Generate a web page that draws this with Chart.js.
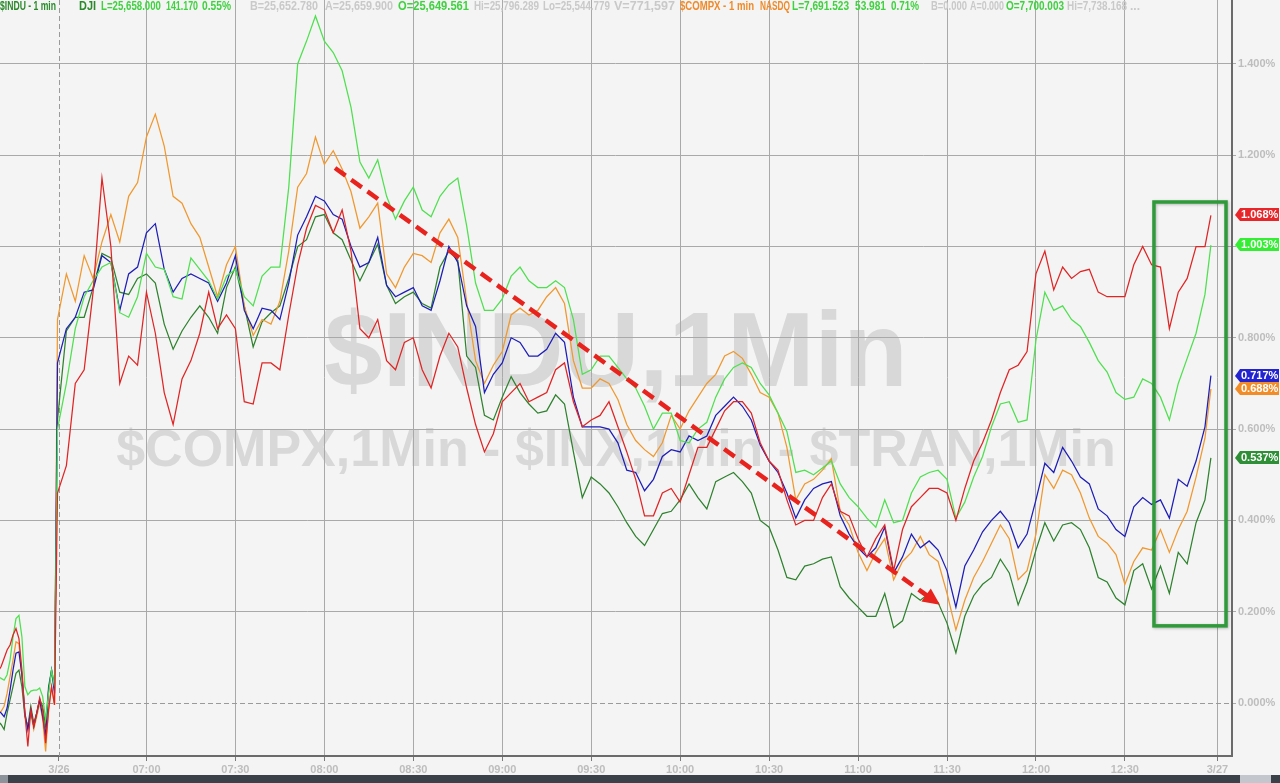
<!DOCTYPE html>
<html>
<head>
<meta charset="utf-8">
<script src="https://cdn.jsdelivr.net/npm/chart.js@4.4.1/dist/chart.umd.min.js"></script>
<style>
  html, body { margin: 0; padding: 0; background: #f4f4f4; }
  #marco { width: 1280px; height: 783px; }
</style>
</head>
<body>
<div id="marco"><canvas id="grafica" width="1280" height="783"></canvas></div>
<script>
// Minutos desde la apertura (06:30). Los negativos son el final de la sesión anterior
const minutos = [
  -20,-19,-18,-17,-16,-15,-14,-13,-12,-11,-10,-9,-8,-7,-6,-5,-4,-3,-2,-1,
  0,3,6,9,12,15,18,21,24,27,
  30,33,36,39,42,45,48,51,54,57,
  60,63,66,69,72,75,78,81,84,87,
  90,93,96,99,102,105,108,111,114,117,
  120,123,126,129,132,135,138,141,144,147,
  150,153,156,159,162,165,168,171,174,177,
  180,183,186,189,192,195,198,201,204,207,
  210,213,216,219,222,225,228,231,234,237,
  240,243,246,249,252,255,258,261,264,267,
  270,273,276,279,282,285,288,291,294,297,
  300,303,306,309,312,315,318,321,324,327,
  330,333,336,339,342,345,348,351,354,357,
  360,363,366,369,372,375,378,381,384,387,
  389
];

// Variación en % de cada serie
const serieRoja = [
  0.07,0.08,0.098,0.116,0.127,0.149,0.163,0.141,0.072,-0.022,-0.095,-0.015,-0.051,-0.022,0.011,-0.015,-0.088,-0.015,0.036,-0.004,
  0.46,0.52,0.70,0.73,0.90,1.15,1.00,0.70,0.76,0.74,
  0.90,0.81,0.68,0.61,0.71,0.75,0.81,0.90,0.82,0.85,
  0.82,0.66,0.655,0.745,0.745,0.73,0.85,0.96,1.04,1.09,
  1.08,1.03,1.08,0.99,0.82,0.80,0.84,0.75,0.73,0.79,
  0.80,0.73,0.69,0.76,0.81,0.78,0.69,0.61,0.55,0.59,
  0.66,0.68,0.70,0.66,0.67,0.68,0.73,0.745,0.66,0.605,
  0.62,0.63,0.66,0.605,0.55,0.49,0.41,0.41,0.46,0.47,
  0.44,0.50,0.56,0.56,0.60,0.64,0.66,0.66,0.635,0.57,
  0.53,0.51,0.445,0.39,0.40,0.40,0.45,0.48,0.42,0.41,
  0.36,0.32,0.36,0.39,0.29,0.38,0.43,0.45,0.47,0.47,
  0.46,0.40,0.47,0.53,0.57,0.62,0.68,0.73,0.74,0.77,
  0.94,0.99,0.905,0.955,0.93,0.945,0.95,0.90,0.89,0.89,
  0.89,0.96,1.00,0.96,0.955,0.82,0.90,0.93,1.00,1.00,
  1.068
];
const serieVerde = [
  0.058,0.054,0.050,0.062,0.094,0.145,0.185,0.192,0.145,0.036,0.018,0.026,0.028,0.028,0.033,0.014,-0.036,0.021,0.072,0.036,
  0.60,0.70,0.82,0.89,0.925,0.955,0.965,0.855,0.845,0.89,
  0.985,0.955,0.95,0.89,0.885,0.975,0.95,0.925,0.885,0.935,
  0.95,0.89,0.87,0.935,0.955,0.955,1.13,1.40,1.45,1.505,
  1.45,1.425,1.385,1.305,1.185,1.15,1.19,1.11,1.06,1.10,
  1.13,1.08,1.065,1.11,1.135,1.15,1.045,0.92,0.86,0.86,
  0.885,0.935,0.955,0.925,0.91,0.91,0.925,0.91,0.84,0.72,
  0.73,0.76,0.76,0.735,0.71,0.69,0.65,0.60,0.635,0.635,
  0.575,0.57,0.60,0.615,0.67,0.71,0.735,0.745,0.735,0.70,
  0.675,0.635,0.595,0.505,0.51,0.50,0.515,0.53,0.48,0.45,
  0.43,0.405,0.385,0.445,0.395,0.40,0.46,0.495,0.505,0.51,
  0.49,0.405,0.44,0.495,0.54,0.605,0.655,0.66,0.615,0.62,
  0.795,0.90,0.86,0.87,0.84,0.825,0.79,0.75,0.725,0.68,
  0.665,0.67,0.71,0.70,0.67,0.62,0.70,0.755,0.81,0.895,
  1.003
];
const serieAzul = [
  -0.018,-0.022,-0.030,-0.011,0.028,0.072,0.109,0.112,0.062,-0.022,-0.058,-0.015,-0.051,-0.022,0.007,-0.030,-0.073,0.028,0.072,0.021,
  0.745,0.82,0.845,0.90,0.905,0.98,0.965,0.86,0.94,0.955,
  1.03,1.05,0.95,0.90,0.93,0.94,0.93,0.92,0.88,0.92,
  0.98,0.86,0.82,0.865,0.86,0.84,0.92,1.025,1.065,1.11,
  1.10,1.07,1.06,1.00,0.955,0.965,1.02,0.915,0.89,0.90,
  0.91,0.87,0.86,0.925,1.00,0.965,0.87,0.825,0.68,0.72,
  0.745,0.80,0.79,0.76,0.76,0.775,0.81,0.79,0.67,0.605,
  0.605,0.605,0.60,0.57,0.51,0.505,0.465,0.49,0.54,0.555,
  0.55,0.585,0.575,0.585,0.63,0.65,0.67,0.65,0.62,0.565,
  0.53,0.505,0.46,0.405,0.445,0.47,0.48,0.485,0.41,0.37,
  0.34,0.32,0.34,0.385,0.285,0.32,0.37,0.34,0.355,0.335,
  0.29,0.21,0.30,0.335,0.375,0.40,0.42,0.395,0.34,0.37,
  0.445,0.525,0.505,0.56,0.53,0.495,0.48,0.425,0.41,0.38,
  0.365,0.43,0.45,0.435,0.445,0.405,0.49,0.475,0.53,0.605,
  0.717
];
const serieNaranja = [
  -0.022,-0.018,-0.007,0.021,0.058,0.094,0.134,0.130,0.058,-0.022,-0.058,-0.022,-0.058,-0.030,0,-0.036,-0.106,-0.015,0.036,-0.004,
  0.84,0.94,0.88,0.98,0.93,1.01,1.07,1.01,1.11,1.14,
  1.24,1.29,1.22,1.11,1.095,1.05,1.02,0.955,0.89,0.96,
  1.00,0.87,0.805,0.84,0.83,0.88,0.99,1.13,1.16,1.24,
  1.18,1.21,1.17,1.12,1.04,1.065,1.095,0.94,0.91,0.955,
  0.985,0.98,0.965,1.03,1.06,1.02,0.88,0.75,0.70,0.74,
  0.77,0.85,0.865,0.85,0.86,0.89,0.91,0.875,0.75,0.69,
  0.69,0.71,0.70,0.665,0.61,0.575,0.555,0.54,0.57,0.63,
  0.60,0.64,0.67,0.70,0.72,0.76,0.77,0.755,0.72,0.68,
  0.67,0.635,0.56,0.445,0.48,0.49,0.51,0.535,0.42,0.39,
  0.33,0.29,0.33,0.36,0.27,0.31,0.33,0.365,0.325,0.31,
  0.24,0.16,0.225,0.275,0.31,0.35,0.39,0.36,0.27,0.29,
  0.37,0.50,0.47,0.51,0.50,0.46,0.405,0.365,0.35,0.325,
  0.26,0.31,0.34,0.335,0.38,0.33,0.38,0.42,0.495,0.58,
  0.688
];
const serieVerdeOscuro = [
  -0.040,-0.047,-0.058,-0.022,0.007,0.036,0.065,0.072,0.036,-0.030,-0.051,-0.007,-0.044,-0.022,0.007,-0.007,-0.051,0.036,0.072,0.040,
  0.62,0.815,0.845,0.845,0.91,0.985,0.975,0.90,0.895,0.93,
  0.94,0.92,0.83,0.775,0.815,0.845,0.87,0.845,0.81,0.91,
  0.955,0.87,0.78,0.835,0.855,0.87,0.93,1.00,1.015,1.065,
  1.07,1.03,1.015,0.97,0.925,0.965,1.005,0.915,0.875,0.89,
  0.90,0.875,0.865,0.955,0.99,0.97,0.76,0.735,0.63,0.62,
  0.67,0.715,0.68,0.655,0.635,0.64,0.675,0.655,0.55,0.45,
  0.495,0.48,0.46,0.43,0.395,0.365,0.345,0.38,0.415,0.42,
  0.445,0.48,0.45,0.425,0.485,0.495,0.505,0.485,0.46,0.40,
  0.385,0.335,0.275,0.27,0.30,0.305,0.315,0.32,0.255,0.23,
  0.21,0.19,0.19,0.24,0.165,0.18,0.24,0.225,0.24,0.22,
  0.175,0.11,0.19,0.235,0.26,0.275,0.315,0.285,0.215,0.265,
  0.335,0.395,0.355,0.39,0.395,0.38,0.34,0.275,0.265,0.23,
  0.215,0.29,0.305,0.25,0.30,0.24,0.33,0.305,0.395,0.445,
  0.537
];

// Ejes
const marcasX = [0.5, 30, 60, 90, 120, 150, 180, 210, 240, 270, 300, 330, 360, 391.2];
const etiquetasX = ['3/26','07:00','07:30','08:00','08:30','09:00','09:30','10:00','10:30','11:00','11:30','12:00','12:30','3/27'];
const marcasY = [0, 0.2, 0.4, 0.6, 0.8, 1.0, 1.2, 1.4];

// Texto de la cabecera: [texto, color, x, ancho]
const cabecera = [
  ['$INDU - 1 min', '#2a8a2a', 0, 56],
  ['DJI', '#2a8a2a', 79, 17],
  ['L=25,658.000', '#3fd23f', 101, 60],
  ['141.170', '#3fd23f', 166, 32],
  ['0.55%', '#3fd23f', 202, 29],
  ['B=25,652.780', '#c9c9c9', 250, 68],
  ['A=25,659.900', '#c9c9c9', 325, 68],
  ['O=25,649.561', '#3fd23f', 398, 71],
  ['Hi=25,796.289', '#c9c9c9', 474, 65],
  ['Lo=25,544.779', '#c9c9c9', 543, 67],
  ['V=771,597', '#c9c9c9', 614, 61],
  ['$COMPX - 1 min', '#f08a28', 680, 74],
  ['NASDQ', '#f08a28', 760, 30],
  ['L=7,691.523', '#3fd23f', 792, 57],
  ['53.981', '#3fd23f', 855, 31],
  ['0.71%', '#3fd23f', 891, 28],
  ['B=0.000', '#c9c9c9', 931, 36],
  ['A=0.000', '#c9c9c9', 970, 34],
  ['O=7,700.003', '#3fd23f', 1006, 58],
  ['Hi=7,738.168', '#c9c9c9', 1067, 60],
  ['...', '#c9c9c9', 1130, 10]
];

// Anotaciones (en unidades de datos)
const flecha = { desde: [93.6, 1.172], hasta: [297.6, 0.215] };
const recuadro = { x1: 369.8, x2: 394.1, y1: 1.0975, y2: 0.169 };

const series = [
  { nombre: 'Roja', datos: serieRoja, color: '#e02424', etiqueta: '#e8262a' },
  { nombre: 'Verde', datos: serieVerde, color: '#4ee04e', etiqueta: '#33ee33' },
  { nombre: 'Azul', datos: serieAzul, color: '#1d1db8', etiqueta: '#2323d0' },
  { nombre: 'Naranja', datos: serieNaranja, color: '#f0982e', etiqueta: '#f28c26' },
  { nombre: 'VerdeOscuro', datos: serieVerdeOscuro, color: '#2e822e', etiqueta: '#2e8f36' }
];

const FUENTE = '"Liberation Sans", Arial, sans-serif';

const decorado = {
  id: 'decorado',
  beforeDraw(chart) {
    const c = chart.ctx;
    const a = chart.chartArea;
    c.save();
    c.fillStyle = '#f4f4f4';
    c.fillRect(0, 0, chart.width, chart.height);
    // marca de agua
    const cx = (a.left + a.right) / 2;
    c.fillStyle = '#d8d8d8';
    c.textAlign = 'center';
    c.textBaseline = 'alphabetic';
    c.font = 'bold 105px ' + FUENTE;
    c.fillText('$INDU,1Min', cx, 386);
    c.font = 'bold 52px ' + FUENTE;
    c.fillText('$COMPX,1Min - $INX,1Min - $TRAN,1Min', cx, 466);
    c.restore();
  },
  beforeDatasetsDraw(chart) {
    const c = chart.ctx;
    const a = chart.chartArea;
    const sx = chart.scales.x, sy = chart.scales.y;
    c.save();
    c.strokeStyle = '#9a9a9a';
    c.lineWidth = 1;
    c.setLineDash([5, 3]);
    const y0 = Math.round(sy.getPixelForValue(0)) + 0.5;
    c.beginPath();
    c.moveTo(a.left, y0);
    c.lineTo(a.right, y0);
    c.stroke();
    const x0 = Math.round(sx.getPixelForValue(marcasX[0])) + 0.5;
    c.beginPath();
    c.moveTo(x0, a.top);
    c.lineTo(x0, a.bottom);
    c.stroke();
    c.restore();
  },
  afterDatasetsDraw(chart) {
    const c = chart.ctx;
    const sx = chart.scales.x, sy = chart.scales.y;
    c.save();
    // flecha roja discontinua
    const xa = sx.getPixelForValue(flecha.desde[0]), ya = sy.getPixelForValue(flecha.desde[1]);
    const xb = sx.getPixelForValue(flecha.hasta[0]), yb = sy.getPixelForValue(flecha.hasta[1]);
    const ang = Math.atan2(yb - ya, xb - xa);
    const dx = Math.cos(ang), dy = Math.sin(ang);
    c.strokeStyle = '#e8231e';
    c.lineWidth = 4.5;
    c.setLineDash([13, 7]);
    c.beginPath();
    c.moveTo(xa, ya);
    c.lineTo(xb - dx * 14, yb - dy * 14);
    c.stroke();
    c.setLineDash([]);
    c.fillStyle = '#e8231e';
    c.beginPath();
    c.moveTo(xb, yb);
    c.lineTo(xb - dx * 17 - dy * 8, yb - dy * 17 + dx * 8);
    c.lineTo(xb - dx * 17 + dy * 8, yb - dy * 17 - dx * 8);
    c.closePath();
    c.fill();
    // recuadro verde
    const rx1 = sx.getPixelForValue(recuadro.x1), rx2 = sx.getPixelForValue(recuadro.x2);
    const ry1 = sy.getPixelForValue(recuadro.y1), ry2 = sy.getPixelForValue(recuadro.y2);
    c.shadowColor = 'rgba(0,0,0,0.25)';
    c.shadowBlur = 3;
    c.shadowOffsetX = 1;
    c.shadowOffsetY = 1;
    c.strokeStyle = '#2f9a3a';
    c.lineWidth = 3.5;
    c.strokeRect(rx1, ry1, rx2 - rx1, ry2 - ry1);
    c.restore();
  },
  afterDraw(chart) {
    const c = chart.ctx;
    const sy = chart.scales.y;
    const a = chart.chartArea;
    c.save();
    // etiquetas de último valor
    c.font = 'bold 11px ' + FUENTE;
    c.textBaseline = 'middle';
    c.textAlign = 'left';
    series.forEach(s => {
      const v = s.datos[s.datos.length - 1];
      const yv = Math.round(sy.getPixelForValue(v));
      const x1 = a.right + 3;
      c.fillStyle = s.etiqueta;
      c.beginPath();
      c.moveTo(x1, yv);
      c.lineTo(x1 + 5, yv - 7);
      c.lineTo(1279, yv - 7);
      c.lineTo(1279, yv + 6);
      c.lineTo(x1 + 5, yv + 6);
      c.closePath();
      c.fill();
      c.fillStyle = '#ffffff';
      c.fillText(v.toFixed(3) + '%', x1 + 6, yv);
    });
    // cabecera
    c.font = 'bold 13px "Liberation Sans Narrow", ' + FUENTE;
    c.textBaseline = 'alphabetic';
    cabecera.forEach(([t, col, x, w]) => {
      c.fillStyle = col;
      c.fillText(t, x, 10, w);
    });
    // barra inferior
    c.fillStyle = '#3b4149';
    c.fillRect(0, 775, chart.width, 8);
    c.fillStyle = '#8d939b';
    c.fillRect(0, 775, 8, 8);
    c.fillStyle = '#c3c7cd';
    c.fillRect(1240, 775, 31, 8);
    c.restore();
  }
};

const grafica = new Chart(document.getElementById('grafica').getContext('2d'), {
  type: 'line',
  data: {
    datasets: series.map(s => ({
      label: s.nombre,
      data: minutos.map((m, i) => ({ x: m, y: s.datos[i] })),
      borderColor: s.color,
      borderWidth: 1.25,
      pointRadius: 0,
      fill: false,
      tension: 0
    }))
  },
  options: {
    responsive: false,
    animation: false,
    devicePixelRatio: 1,
    layout: { padding: 0 },
    plugins: {
      legend: { display: false },
      tooltip: { enabled: false }
    },
    events: [],
    scales: {
      x: {
        type: 'linear',
        min: -19.39,
        max: 396.12,
        afterBuildTicks: s => { s.ticks = marcasX.map(v => ({ value: v })); },
        afterFit: s => { s.height = 27; s.paddingLeft = 0; s.paddingRight = 0; },
        ticks: {
          autoSkip: false,
          maxRotation: 0,
          padding: 2,
          color: '#bdbdbd',
          font: { family: FUENTE, size: 11, weight: 'bold' },
          callback: (v, i) => etiquetasX[i]
        },
        grid: {
          color: ctx => (ctx.index === 0 ? 'rgba(0,0,0,0)' : '#a9a9a9'),
          lineWidth: 1,
          tickLength: 5,
          tickColor: '#7a7a7a'
        },
        border: { color: '#6a6a6a', width: 2 }
      },
      y: {
        position: 'right',
        min: -0.1161,
        max: 1.54,
        afterBuildTicks: s => { s.ticks = marcasY.map(v => ({ value: v })); },
        afterFit: s => { s.width = 48; s.paddingTop = 0; s.paddingBottom = 0; },
        ticks: {
          padding: 2,
          color: '#bdbdbd',
          font: { family: FUENTE, size: 11, weight: 'bold' },
          callback: v => v.toFixed(3) + '%'
        },
        grid: {
          color: ctx => (ctx.tick && ctx.tick.value === 0 ? 'rgba(0,0,0,0)' : '#a9a9a9'),
          lineWidth: 1,
          tickLength: 4,
          tickColor: '#a9a9a9'
        },
        border: { color: '#6a6a6a', width: 2 }
      }
    }
  },
  plugins: [decorado]
});
</script>
</body>
</html>
